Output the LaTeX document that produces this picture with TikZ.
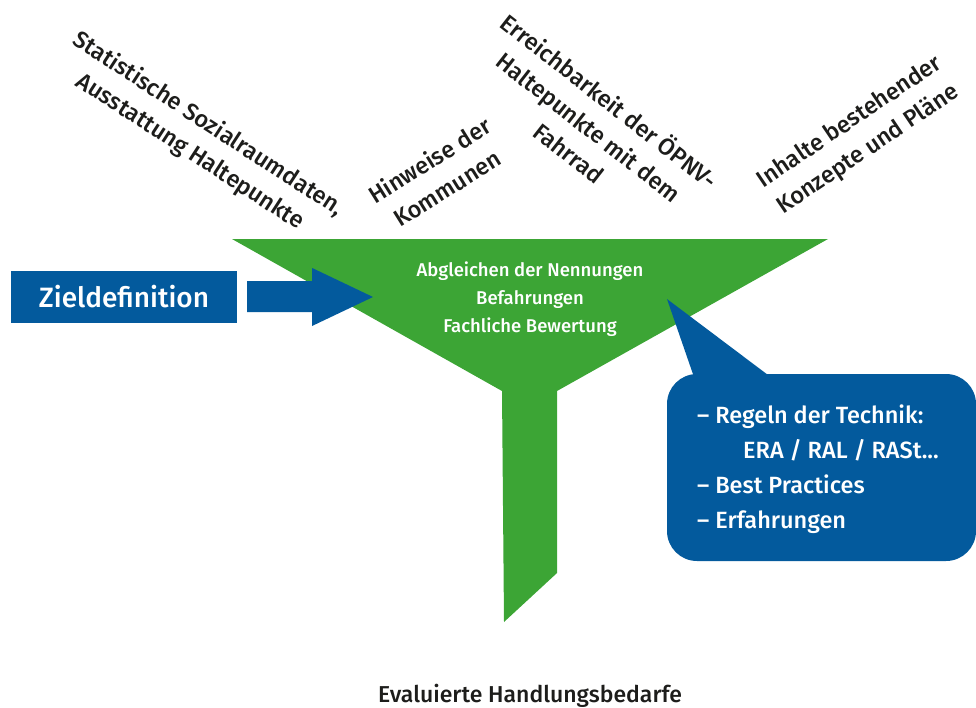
\documentclass[tikz,border=0pt]{standalone}
\usepackage{fontspec}
\setmainfont{Fira Sans}
\newfontfamily\medfont{Fira Sans Medium}
\usetikzlibrary{positioning}

\begin{document}
\begin{tikzpicture}
		[x=1pt,y=-1pt,line cap=round,
		%Styles
		source/.style={align=center,text=textdark,inner sep=0pt,font=\medfont\fontsize{23.5}{33}\selectfont},
		target/.style={text=textdark,inner sep=0pt,font=\medfont\fontsize{23}{27}\selectfont},
		zielbox/.style={fill=mainblue,text=white,inner sep=0pt,minimum width=226,minimum height=52,font=\medfont\fontsize{28}{34}\selectfont},
		funnel text/.style={align=center,text=white,inner sep=0pt,font=\medfont\fontsize{18.5}{28}\selectfont},
		bubble text/.style={align=left,text=white,inner sep=0pt,anchor=west,font=\medfont\fontsize{23.5}{35}\selectfont}
		]
		
		%Colors
		\definecolor{mainblue}{HTML}{035A9D}
		\definecolor{funnelgreen}{HTML}{3CA535}
		\definecolor{textdark}{HTML}{1D1D1B}
		
		\useasboundingbox (0,0) rectangle (976,707);
		
		%The graphic
		\fill[funnelgreen] (232,239) -- (828,239) -- (557,391) -- (557,573) -- (504,622) -- (502,391) -- cycle;
		\node[funnel text] (funnel) at (530,299) {Abgleichen der Nennungen\\Befahrungen\\Fachliche Bewertung};
		
		\node[zielbox] (ziel) at (124,297) {Zieldefinition};
		\coordinate (arrow start) at ([xshift=10]ziel.east);
		\coordinate (arrow tip) at (373,297);
		\fill[mainblue] (arrow start) ++(0,-16) -- ++(65,0) -- ++(0,-13) -- (arrow tip) -- ++(-61,29) -- ++(0,-14) -- ++(-65,0) -- cycle;
		
		%speech bubble
		\fill[mainblue,rounded corners=30] (667,374) rectangle (976,561);
		\fill[mainblue] (667,299) -- (768,375) -- (695,380) -- cycle;
		\node[bubble text] (rules) at (697,469) {– Regeln der Technik:\\\hspace*{46pt}ERA / RAL / RASt...\\– Best Practices\\– Erfahrungen};
		
		%inputs
		\node[source,rotate=-33] (statistics) at (199,138) {Statistische Sozialraumdaten,\\Ausstattung Haltepunkte};
		\node[source,rotate=32] (communes) at (438,174) {Hinweise der\\Kommunen};
		\node[source,rotate=-38] (access) at (590,126) {Erreichbarkeit der ÖPNV-\\Haltepunkte mit dem\\Fahrrad};
		\node[source,rotate=34] (concepts) at (859,136) {Inhalte bestehender\\Konzepte und Pläne};
		
		\node[target,anchor=base] (result) at (530,702) {Evaluierte Handlungsbedarfe};
	\end{tikzpicture}
\end{document}
